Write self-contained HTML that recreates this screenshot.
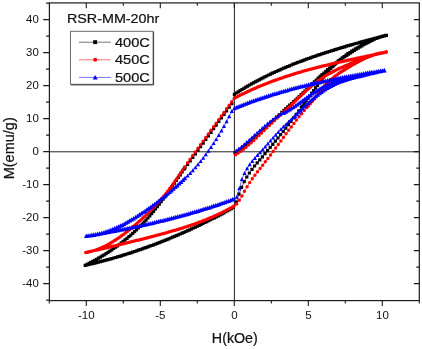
<!DOCTYPE html>
<html><head><meta charset="utf-8"><title>M-H loops</title>
<style>
html,body{margin:0;padding:0;background:#fff;}
body{width:422px;height:349px;overflow:hidden;}
svg{display:block;will-change:transform;}
text{font-family:"Liberation Sans",sans-serif;fill:#111;}
text.b{stroke:#111;stroke-width:0.22px;}
</style></head><body>
<svg width="422" height="349" viewBox="0 0 422 349">
<rect width="422" height="349" fill="#fff"/>
<rect x="49.4" y="2.9" width="369.90000000000003" height="297.70000000000005" fill="none" stroke="#1a1a1a" stroke-width="1.2"/>
<path d="M49.4 151.79999999999998H419.3M234.4 2.9V300.6" stroke="#222" stroke-width="1" fill="none"/>
<path d="M49.4 300.1h-3.3M49.4 283.6h-6.2M419.3 283.6h-5.5M49.4 267.1h-3.3M419.3 267.1h-3M49.4 250.6h-6.2M419.3 250.6h-5.5M49.4 234.1h-3.3M419.3 234.1h-3M49.4 217.6h-6.2M419.3 217.6h-5.5M49.4 201.1h-3.3M419.3 201.1h-3M49.4 184.6h-6.2M419.3 184.6h-5.5M49.4 168.1h-3.3M419.3 168.1h-3M49.4 151.6h-6.2M419.3 151.6h-5.5M49.4 135.1h-3.3M419.3 135.1h-3M49.4 118.6h-6.2M419.3 118.6h-5.5M49.4 102.1h-3.3M419.3 102.1h-3M49.4 85.6h-6.2M419.3 85.6h-5.5M49.4 69.1h-3.3M419.3 69.1h-3M49.4 52.6h-6.2M419.3 52.6h-5.5M49.4 36.1h-3.3M419.3 36.1h-3M49.4 19.6h-6.2M419.3 19.6h-5.5M49.4 3.1h-3.3M49.3 300.6v3M86.3 300.6v5.5M86.3 2.9v5.3M123.3 300.6v3M123.3 2.9v2.9M160.3 300.6v5.5M160.3 2.9v5.3M197.3 300.6v3M197.3 2.9v2.9M234.3 300.6v5.5M234.3 2.9v5.3M271.3 300.6v3M271.3 2.9v2.9M308.3 300.6v5.5M308.3 2.9v5.3M345.3 300.6v3M345.3 2.9v2.9M382.3 300.6v5.5M382.3 2.9v5.3M419.3 300.6v3" stroke="#1a1a1a" stroke-width="1.1" fill="none"/>
<path d="M85.2 265.4L87.1 264.4L89 263.4L90.9 262.4L92.8 261.4L94.7 260.3L96.6 259.3L98.5 258.2L100.4 257.1L102.3 255.9L104.2 254.8L106.1 253.6L108 252.4L109.9 251.1L111.8 249.9L113.7 248.5L115.6 247.2L117.5 245.8L119.4 244.4L121.3 243L123.2 241.5L125.1 239.9L127 238.4L128.9 236.7L130.8 235.1L132.7 233.4L134.6 231.6L136.5 229.8L138.4 228L140.3 226.1L142.2 224.1L144.1 222.1L146 220.1L147.9 218L149.8 215.8L151.7 213.6L153.6 211.3L155.5 209L157.4 206.6L159.3 204.2L161.2 201.7L163.1 199.2L165 196.6L166.9 194L168.8 191.3L170.7 188.6L172.6 185.9L174.5 183.1L176.4 180.3L178.3 177.6L180.2 174.8L182.1 172L184 169.2L185 167.8L187.6 164.3L190.2 160.8L192.8 157.3L195.4 153.8L198 150.2L200.6 146.7L203.2 143.1L205.8 139.5L208.4 135.9L211 132.3L213.6 128.7L216.2 125.1L218.8 121.5L221.4 117.9L224 114.4L226.6 110.8L229.2 107.2L231.8 103.6L234.4 94.3L236.3 93.1L238.2 91.9L240.1 90.7L242 89.5L243.9 88.4L245.8 87.2L247.7 86.1L249.6 85L251.5 84L253.4 82.9L255.3 81.9L257.2 80.9L259.1 79.9L261 78.9L262.9 77.9L264.8 76.9L266.7 76L268.6 75.1L270.5 74.2L272.4 73.3L274.3 72.4L276.2 71.5L278.1 70.7L280 69.8L281.9 69L283.8 68.2L285.7 67.4L287.6 66.6L289.5 65.8L291.4 65L293.3 64.3L295.2 63.5L297.1 62.8L299 62L300.9 61.3L302.8 60.6L304.7 59.9L306.6 59.2L308.5 58.5L310.4 57.8L312.3 57.2L314.2 56.5L316.1 55.9L318 55.2L319.9 54.6L321.8 53.9L323.7 53.3L325.6 52.7L327.5 52.1L329.4 51.5L331.3 50.9L333.2 50.3L335.1 49.7L337 49.1L338.9 48.5L340.8 48L342.7 47.4L344.6 46.8L346.5 46.3L348.4 45.7L350.3 45.2L352.2 44.6L354.1 44.1L356 43.5L357.9 43L359.8 42.5L361.7 41.9L363.6 41.4L365.5 40.9L367.4 40.4L369.3 39.9L371.2 39.3L373.1 38.8L375 38.3L376.9 37.8L378.8 37.3L380.7 36.8L382.6 36.3L384.5 35.8L386.4 35.3M85.2 265.4L87.1 265L89 264.5L90.9 264.1L92.8 263.6L94.7 263.1L96.6 262.7L98.5 262.2L100.4 261.7L102.3 261.2L104.2 260.7L106.1 260.2L108 259.6L109.9 259.1L111.8 258.6L113.7 258L115.6 257.5L117.5 256.9L119.4 256.4L121.3 255.8L123.2 255.2L125.1 254.6L127 254L128.9 253.4L130.8 252.8L132.7 252.2L134.6 251.5L136.5 250.9L138.4 250.3L140.3 249.6L142.2 248.9L144.1 248.3L146 247.6L147.9 246.9L149.8 246.2L151.7 245.5L153.6 244.8L155.5 244.1L157.4 243.4L159.3 242.6L161.2 241.9L163.1 241.1L165 240.4L166.9 239.6L168.8 238.8L170.7 238.1L172.6 237.3L174.5 236.5L176.4 235.7L178.3 234.8L180.2 234L182.1 233.2L184 232.3L185.9 231.5L187.8 230.6L189.7 229.8L191.6 228.9L193.5 228L195.4 227.1L197.3 226.2L199.2 225.3L201.1 224.4L203 223.5L204.9 222.6L206.8 221.6L208.7 220.7L210.6 219.7L212.5 218.7L214.4 217.8L216.3 216.8L218.2 215.8L220.1 214.8L222 213.8L223.9 212.8L225.8 211.8L227.7 210.7L229.6 209.7L231.5 208.6L233.4 207.6L236.4 202L239 194.2L241.6 187.3L244.2 181.6L246.8 177L249.4 173L252 169.4L254.6 166L257.2 162.8L259.8 159.8L262.4 156.8L265 153.7L267.6 150.7L270.2 147.5L272.8 144.4L275.4 141.2L278 138L280.6 134.7L283.2 131.4L285.8 128.1L288.4 124.7L291 121.3L293.6 117.8L296.2 114.3L298.8 110.8L301.4 107.2L302.3 106L304.2 103.5L306.1 101L308 98.4L309.9 95.8L311.8 93.2L313.7 90.5L315.6 87.9L317.5 85.3L319.4 82.8L321.3 80.2L323.2 77.8L325.1 75.4L327 73L328.9 70.8L330.8 68.6L332.7 66.6L334.6 64.7L336.5 62.8L338.4 61.1L340.3 59.5L342.2 57.9L344.1 56.5L346 55.1L347.9 53.8L349.8 52.5L351.7 51.3L353.6 50.1L355.5 49L357.4 47.9L359.3 46.8L361.2 45.7L363.1 44.7L365 43.7L366.9 42.8L368.8 41.9L370.7 41L372.6 40.1L374.5 39.3L376.4 38.5L378.3 37.7L380.2 37L382.1 36.4L384 35.9L385.9 35.4M235 152.8L237.6 151.1L240.2 149.3L242.8 147.5L245.4 145.5L248 143.4L250.6 141.2L253.2 138.9L255.8 136.6L258.4 134.3L261 131.9L263.6 129.5L266.2 127L268.8 124.5L271.4 122.1L274 119.6L276.6 117.2L279.2 114.8L281.8 112.4L284 110.4L285.9 108.7L287.8 106.9L289.7 105.2L291.6 103.5L293.5 101.8L295.4 100L297.3 98.3L299.2 96.5L301.1 94.8L303 93L304.9 91.1L306.8 89.3L308.7 87.4L310.6 85.6L312.5 83.7L314.4 81.9L316.3 80L318.2 78.2L320.1 76.4L322 74.7L323.9 73L325.8 71.3L327.7 69.7L329.6 68.1L331.5 66.6L333.4 65.1L335.3 63.6L337.2 62.2L339.1 60.7L341 59.4L342.9 58L344.8 56.7L346.7 55.4L348.6 54.1L350.5 52.9L352.4 51.6L354.3 50.4L356.2 49.3L358.1 48.1L360 47L361.9 45.8L363.8 44.7L365.7 43.6L367.6 42.5L369.5 41.5L371.4 40.4" fill="none" stroke="#000" stroke-width="0.6"/>
<path d="M83.6 263.8h3.2v3.2h-3.2zM85.5 262.8h3.2v3.2h-3.2zM87.4 261.8h3.2v3.2h-3.2zM89.3 260.8h3.2v3.2h-3.2zM91.2 259.8h3.2v3.2h-3.2zM93.1 258.7h3.2v3.2h-3.2zM95 257.7h3.2v3.2h-3.2zM96.9 256.6h3.2v3.2h-3.2zM98.8 255.5h3.2v3.2h-3.2zM100.7 254.3h3.2v3.2h-3.2zM102.6 253.2h3.2v3.2h-3.2zM104.5 252h3.2v3.2h-3.2zM106.4 250.8h3.2v3.2h-3.2zM108.3 249.5h3.2v3.2h-3.2zM110.2 248.2h3.2v3.2h-3.2zM112.1 246.9h3.2v3.2h-3.2zM114 245.6h3.2v3.2h-3.2zM115.9 244.2h3.2v3.2h-3.2zM117.8 242.8h3.2v3.2h-3.2zM119.7 241.3h3.2v3.2h-3.2zM121.6 239.8h3.2v3.2h-3.2zM123.5 238.3h3.2v3.2h-3.2zM125.4 236.7h3.2v3.2h-3.2zM127.3 235.1h3.2v3.2h-3.2zM129.2 233.5h3.2v3.2h-3.2zM131.1 231.8h3.2v3.2h-3.2zM133 230h3.2v3.2h-3.2zM134.9 228.2h3.2v3.2h-3.2zM136.8 226.4h3.2v3.2h-3.2zM138.7 224.5h3.2v3.2h-3.2zM140.6 222.5h3.2v3.2h-3.2zM142.5 220.5h3.2v3.2h-3.2zM144.4 218.5h3.2v3.2h-3.2zM146.3 216.4h3.2v3.2h-3.2zM148.2 214.2h3.2v3.2h-3.2zM150.1 212h3.2v3.2h-3.2zM152 209.7h3.2v3.2h-3.2zM153.9 207.4h3.2v3.2h-3.2zM155.8 205h3.2v3.2h-3.2zM157.7 202.6h3.2v3.2h-3.2zM159.6 200.1h3.2v3.2h-3.2zM161.5 197.6h3.2v3.2h-3.2zM163.4 195h3.2v3.2h-3.2zM165.3 192.3h3.2v3.2h-3.2zM167.2 189.7h3.2v3.2h-3.2zM169.1 187h3.2v3.2h-3.2zM171 184.2h3.2v3.2h-3.2zM172.9 181.5h3.2v3.2h-3.2zM174.8 178.7h3.2v3.2h-3.2zM176.7 175.9h3.2v3.2h-3.2zM178.6 173.2h3.2v3.2h-3.2zM180.5 170.4h3.2v3.2h-3.2zM182.4 167.6h3.2v3.2h-3.2zM183.4 166.2h3.2v3.2h-3.2zM186 162.7h3.2v3.2h-3.2zM188.6 159.2h3.2v3.2h-3.2zM191.2 155.7h3.2v3.2h-3.2zM193.8 152.2h3.2v3.2h-3.2zM196.4 148.6h3.2v3.2h-3.2zM199 145.1h3.2v3.2h-3.2zM201.6 141.5h3.2v3.2h-3.2zM204.2 137.9h3.2v3.2h-3.2zM206.8 134.3h3.2v3.2h-3.2zM209.4 130.7h3.2v3.2h-3.2zM212 127.1h3.2v3.2h-3.2zM214.6 123.5h3.2v3.2h-3.2zM217.2 119.9h3.2v3.2h-3.2zM219.8 116.3h3.2v3.2h-3.2zM222.4 112.8h3.2v3.2h-3.2zM225 109.2h3.2v3.2h-3.2zM227.6 105.6h3.2v3.2h-3.2zM230.2 102h3.2v3.2h-3.2zM232.8 92.7h3.2v3.2h-3.2zM234.7 91.4h3.2v3.2h-3.2zM236.6 90.2h3.2v3.2h-3.2zM238.5 89h3.2v3.2h-3.2zM240.4 87.9h3.2v3.2h-3.2zM242.3 86.7h3.2v3.2h-3.2zM244.2 85.6h3.2v3.2h-3.2zM246.1 84.5h3.2v3.2h-3.2zM248 83.4h3.2v3.2h-3.2zM249.9 82.3h3.2v3.2h-3.2zM251.8 81.3h3.2v3.2h-3.2zM253.7 80.3h3.2v3.2h-3.2zM255.6 79.2h3.2v3.2h-3.2zM257.5 78.2h3.2v3.2h-3.2zM259.4 77.2h3.2v3.2h-3.2zM261.3 76.3h3.2v3.2h-3.2zM263.2 75.3h3.2v3.2h-3.2zM265.1 74.4h3.2v3.2h-3.2zM267 73.4h3.2v3.2h-3.2zM268.9 72.5h3.2v3.2h-3.2zM270.8 71.6h3.2v3.2h-3.2zM272.7 70.8h3.2v3.2h-3.2zM274.6 69.9h3.2v3.2h-3.2zM276.5 69h3.2v3.2h-3.2zM278.4 68.2h3.2v3.2h-3.2zM280.3 67.4h3.2v3.2h-3.2zM282.2 66.5h3.2v3.2h-3.2zM284.1 65.7h3.2v3.2h-3.2zM286 64.9h3.2v3.2h-3.2zM287.9 64.2h3.2v3.2h-3.2zM289.8 63.4h3.2v3.2h-3.2zM291.7 62.6h3.2v3.2h-3.2zM293.6 61.9h3.2v3.2h-3.2zM295.5 61.1h3.2v3.2h-3.2zM297.4 60.4h3.2v3.2h-3.2zM299.3 59.7h3.2v3.2h-3.2zM301.2 59h3.2v3.2h-3.2zM303.1 58.3h3.2v3.2h-3.2zM305 57.6h3.2v3.2h-3.2zM306.9 56.9h3.2v3.2h-3.2zM308.8 56.2h3.2v3.2h-3.2zM310.7 55.6h3.2v3.2h-3.2zM312.6 54.9h3.2v3.2h-3.2zM314.5 54.2h3.2v3.2h-3.2zM316.4 53.6h3.2v3.2h-3.2zM318.3 53h3.2v3.2h-3.2zM320.2 52.3h3.2v3.2h-3.2zM322.1 51.7h3.2v3.2h-3.2zM324 51.1h3.2v3.2h-3.2zM325.9 50.5h3.2v3.2h-3.2zM327.8 49.9h3.2v3.2h-3.2zM329.7 49.3h3.2v3.2h-3.2zM331.6 48.7h3.2v3.2h-3.2zM333.5 48.1h3.2v3.2h-3.2zM335.4 47.5h3.2v3.2h-3.2zM337.3 46.9h3.2v3.2h-3.2zM339.2 46.3h3.2v3.2h-3.2zM341.1 45.8h3.2v3.2h-3.2zM343 45.2h3.2v3.2h-3.2zM344.9 44.6h3.2v3.2h-3.2zM346.8 44.1h3.2v3.2h-3.2zM348.7 43.5h3.2v3.2h-3.2zM350.6 43h3.2v3.2h-3.2zM352.5 42.4h3.2v3.2h-3.2zM354.4 41.9h3.2v3.2h-3.2zM356.3 41.4h3.2v3.2h-3.2zM358.2 40.8h3.2v3.2h-3.2zM360.1 40.3h3.2v3.2h-3.2zM362 39.8h3.2v3.2h-3.2zM363.9 39.3h3.2v3.2h-3.2zM365.8 38.8h3.2v3.2h-3.2zM367.7 38.2h3.2v3.2h-3.2zM369.6 37.7h3.2v3.2h-3.2zM371.5 37.2h3.2v3.2h-3.2zM373.4 36.7h3.2v3.2h-3.2zM375.3 36.2h3.2v3.2h-3.2zM377.2 35.7h3.2v3.2h-3.2zM379.1 35.2h3.2v3.2h-3.2zM381 34.7h3.2v3.2h-3.2zM382.9 34.2h3.2v3.2h-3.2zM384.8 33.7h3.2v3.2h-3.2zM83.6 263.8h3.2v3.2h-3.2zM85.5 263.3h3.2v3.2h-3.2zM87.4 262.9h3.2v3.2h-3.2zM89.3 262.4h3.2v3.2h-3.2zM91.2 262h3.2v3.2h-3.2zM93.1 261.5h3.2v3.2h-3.2zM95 261h3.2v3.2h-3.2zM96.9 260.6h3.2v3.2h-3.2zM98.8 260.1h3.2v3.2h-3.2zM100.7 259.6h3.2v3.2h-3.2zM102.6 259.1h3.2v3.2h-3.2zM104.5 258.5h3.2v3.2h-3.2zM106.4 258h3.2v3.2h-3.2zM108.3 257.5h3.2v3.2h-3.2zM110.2 257h3.2v3.2h-3.2zM112.1 256.4h3.2v3.2h-3.2zM114 255.9h3.2v3.2h-3.2zM115.9 255.3h3.2v3.2h-3.2zM117.8 254.7h3.2v3.2h-3.2zM119.7 254.2h3.2v3.2h-3.2zM121.6 253.6h3.2v3.2h-3.2zM123.5 253h3.2v3.2h-3.2zM125.4 252.4h3.2v3.2h-3.2zM127.3 251.8h3.2v3.2h-3.2zM129.2 251.2h3.2v3.2h-3.2zM131.1 250.5h3.2v3.2h-3.2zM133 249.9h3.2v3.2h-3.2zM134.9 249.3h3.2v3.2h-3.2zM136.8 248.6h3.2v3.2h-3.2zM138.7 248h3.2v3.2h-3.2zM140.6 247.3h3.2v3.2h-3.2zM142.5 246.6h3.2v3.2h-3.2zM144.4 246h3.2v3.2h-3.2zM146.3 245.3h3.2v3.2h-3.2zM148.2 244.6h3.2v3.2h-3.2zM150.1 243.9h3.2v3.2h-3.2zM152 243.2h3.2v3.2h-3.2zM153.9 242.5h3.2v3.2h-3.2zM155.8 241.7h3.2v3.2h-3.2zM157.7 241h3.2v3.2h-3.2zM159.6 240.3h3.2v3.2h-3.2zM161.5 239.5h3.2v3.2h-3.2zM163.4 238.8h3.2v3.2h-3.2zM165.3 238h3.2v3.2h-3.2zM167.2 237.2h3.2v3.2h-3.2zM169.1 236.4h3.2v3.2h-3.2zM171 235.6h3.2v3.2h-3.2zM172.9 234.8h3.2v3.2h-3.2zM174.8 234h3.2v3.2h-3.2zM176.7 233.2h3.2v3.2h-3.2zM178.6 232.4h3.2v3.2h-3.2zM180.5 231.6h3.2v3.2h-3.2zM182.4 230.7h3.2v3.2h-3.2zM184.3 229.9h3.2v3.2h-3.2zM186.2 229h3.2v3.2h-3.2zM188.1 228.2h3.2v3.2h-3.2zM190 227.3h3.2v3.2h-3.2zM191.9 226.4h3.2v3.2h-3.2zM193.8 225.5h3.2v3.2h-3.2zM195.7 224.6h3.2v3.2h-3.2zM197.6 223.7h3.2v3.2h-3.2zM199.5 222.8h3.2v3.2h-3.2zM201.4 221.9h3.2v3.2h-3.2zM203.3 220.9h3.2v3.2h-3.2zM205.2 220h3.2v3.2h-3.2zM207.1 219h3.2v3.2h-3.2zM209 218.1h3.2v3.2h-3.2zM210.9 217.1h3.2v3.2h-3.2zM212.8 216.2h3.2v3.2h-3.2zM214.7 215.2h3.2v3.2h-3.2zM216.6 214.2h3.2v3.2h-3.2zM218.5 213.2h3.2v3.2h-3.2zM220.4 212.2h3.2v3.2h-3.2zM222.3 211.2h3.2v3.2h-3.2zM224.2 210.1h3.2v3.2h-3.2zM226.1 209.1h3.2v3.2h-3.2zM228 208h3.2v3.2h-3.2zM229.9 207h3.2v3.2h-3.2zM231.8 205.9h3.2v3.2h-3.2zM234.8 200.4h3.2v3.2h-3.2zM237.4 192.6h3.2v3.2h-3.2zM240 185.7h3.2v3.2h-3.2zM242.6 180h3.2v3.2h-3.2zM245.2 175.4h3.2v3.2h-3.2zM247.8 171.4h3.2v3.2h-3.2zM250.4 167.8h3.2v3.2h-3.2zM253 164.4h3.2v3.2h-3.2zM255.6 161.2h3.2v3.2h-3.2zM258.2 158.2h3.2v3.2h-3.2zM260.8 155.2h3.2v3.2h-3.2zM263.4 152.1h3.2v3.2h-3.2zM266 149.1h3.2v3.2h-3.2zM268.6 145.9h3.2v3.2h-3.2zM271.2 142.8h3.2v3.2h-3.2zM273.8 139.6h3.2v3.2h-3.2zM276.4 136.4h3.2v3.2h-3.2zM279 133.1h3.2v3.2h-3.2zM281.6 129.8h3.2v3.2h-3.2zM284.2 126.5h3.2v3.2h-3.2zM286.8 123.1h3.2v3.2h-3.2zM289.4 119.7h3.2v3.2h-3.2zM292 116.2h3.2v3.2h-3.2zM294.6 112.7h3.2v3.2h-3.2zM297.2 109.2h3.2v3.2h-3.2zM299.8 105.6h3.2v3.2h-3.2zM300.7 104.4h3.2v3.2h-3.2zM302.6 101.9h3.2v3.2h-3.2zM304.5 99.3h3.2v3.2h-3.2zM306.4 96.8h3.2v3.2h-3.2zM308.3 94.2h3.2v3.2h-3.2zM310.2 91.5h3.2v3.2h-3.2zM312.1 88.9h3.2v3.2h-3.2zM314 86.3h3.2v3.2h-3.2zM315.9 83.7h3.2v3.2h-3.2zM317.8 81.1h3.2v3.2h-3.2zM319.7 78.6h3.2v3.2h-3.2zM321.6 76.1h3.2v3.2h-3.2zM323.5 73.7h3.2v3.2h-3.2zM325.4 71.4h3.2v3.2h-3.2zM327.3 69.2h3.2v3.2h-3.2zM329.2 67h3.2v3.2h-3.2zM331.1 65h3.2v3.2h-3.2zM333 63h3.2v3.2h-3.2zM334.9 61.2h3.2v3.2h-3.2zM336.8 59.5h3.2v3.2h-3.2zM338.7 57.9h3.2v3.2h-3.2zM340.6 56.3h3.2v3.2h-3.2zM342.5 54.9h3.2v3.2h-3.2zM344.4 53.5h3.2v3.2h-3.2zM346.3 52.1h3.2v3.2h-3.2zM348.2 50.9h3.2v3.2h-3.2zM350.1 49.6h3.2v3.2h-3.2zM352 48.5h3.2v3.2h-3.2zM353.9 47.3h3.2v3.2h-3.2zM355.8 46.2h3.2v3.2h-3.2zM357.7 45.2h3.2v3.2h-3.2zM359.6 44.1h3.2v3.2h-3.2zM361.5 43.1h3.2v3.2h-3.2zM363.4 42.1h3.2v3.2h-3.2zM365.3 41.2h3.2v3.2h-3.2zM367.2 40.2h3.2v3.2h-3.2zM369.1 39.3h3.2v3.2h-3.2zM371 38.5h3.2v3.2h-3.2zM372.9 37.6h3.2v3.2h-3.2zM374.8 36.9h3.2v3.2h-3.2zM376.7 36.1h3.2v3.2h-3.2zM378.6 35.4h3.2v3.2h-3.2zM380.5 34.8h3.2v3.2h-3.2zM382.4 34.2h3.2v3.2h-3.2zM384.3 33.8h3.2v3.2h-3.2zM233.4 151.2h3.2v3.2h-3.2zM236 149.5h3.2v3.2h-3.2zM238.6 147.7h3.2v3.2h-3.2zM241.2 145.9h3.2v3.2h-3.2zM243.8 143.9h3.2v3.2h-3.2zM246.4 141.8h3.2v3.2h-3.2zM249 139.6h3.2v3.2h-3.2zM251.6 137.3h3.2v3.2h-3.2zM254.2 135h3.2v3.2h-3.2zM256.8 132.7h3.2v3.2h-3.2zM259.4 130.3h3.2v3.2h-3.2zM262 127.9h3.2v3.2h-3.2zM264.6 125.4h3.2v3.2h-3.2zM267.2 122.9h3.2v3.2h-3.2zM269.8 120.5h3.2v3.2h-3.2zM272.4 118h3.2v3.2h-3.2zM275 115.6h3.2v3.2h-3.2zM277.6 113.2h3.2v3.2h-3.2zM280.2 110.8h3.2v3.2h-3.2zM282.4 108.8h3.2v3.2h-3.2zM284.3 107h3.2v3.2h-3.2zM286.2 105.3h3.2v3.2h-3.2zM288.1 103.6h3.2v3.2h-3.2zM290 101.9h3.2v3.2h-3.2zM291.9 100.1h3.2v3.2h-3.2zM293.8 98.4h3.2v3.2h-3.2zM295.7 96.7h3.2v3.2h-3.2zM297.6 94.9h3.2v3.2h-3.2zM299.5 93.1h3.2v3.2h-3.2zM301.4 91.3h3.2v3.2h-3.2zM303.3 89.5h3.2v3.2h-3.2zM305.2 87.7h3.2v3.2h-3.2zM307.1 85.8h3.2v3.2h-3.2zM309 84h3.2v3.2h-3.2zM310.9 82.1h3.2v3.2h-3.2zM312.8 80.2h3.2v3.2h-3.2zM314.7 78.4h3.2v3.2h-3.2zM316.6 76.6h3.2v3.2h-3.2zM318.5 74.8h3.2v3.2h-3.2zM320.4 73.1h3.2v3.2h-3.2zM322.3 71.4h3.2v3.2h-3.2zM324.2 69.7h3.2v3.2h-3.2zM326.1 68.1h3.2v3.2h-3.2zM328 66.5h3.2v3.2h-3.2zM329.9 65h3.2v3.2h-3.2zM331.8 63.5h3.2v3.2h-3.2zM333.7 62h3.2v3.2h-3.2zM335.6 60.5h3.2v3.2h-3.2zM337.5 59.1h3.2v3.2h-3.2zM339.4 57.7h3.2v3.2h-3.2zM341.3 56.4h3.2v3.2h-3.2zM343.2 55.1h3.2v3.2h-3.2zM345.1 53.8h3.2v3.2h-3.2zM347 52.5h3.2v3.2h-3.2zM348.9 51.2h3.2v3.2h-3.2zM350.8 50h3.2v3.2h-3.2zM352.7 48.8h3.2v3.2h-3.2zM354.6 47.6h3.2v3.2h-3.2zM356.5 46.5h3.2v3.2h-3.2zM358.4 45.3h3.2v3.2h-3.2zM360.3 44.2h3.2v3.2h-3.2zM362.2 43.1h3.2v3.2h-3.2zM364.1 42h3.2v3.2h-3.2zM366 40.9h3.2v3.2h-3.2zM367.9 39.8h3.2v3.2h-3.2zM369.8 38.8h3.2v3.2h-3.2z" fill="#000" stroke="none"/>

<path d="M85.8 252.5L87.7 252.2L89.6 251.8L91.5 251.3L93.4 250.8L95.3 250.2L97.2 249.5L99.1 248.8L101 248L102.9 247.1L104.8 246.2L106.7 245.2L108.6 244.2L110.5 243.1L112.4 242L114.3 240.8L116.2 239.6L118.1 238.3L120 237L121.9 235.6L123.8 234.2L125.7 232.8L127.6 231.3L129.5 229.7L131.4 228.2L133.3 226.6L135.2 225L137.1 223.3L139 221.6L140.9 219.9L142.8 218.1L144.7 216.4L146.6 214.5L148.5 212.7L150.4 210.8L152.3 208.9L154.2 206.9L156.1 204.9L158 202.8L159.9 200.7L161.8 198.5L163.7 196.2L165.6 193.9L167.5 191.5L169.4 189L171.3 186.4L173.2 183.8L175.1 181.1L177 178.4L178.9 175.6L180.8 172.8L182.7 170L184.6 167.1L187.6 162.8L190.2 159.2L192.8 155.5L195.4 151.9L198 148.3L200.6 144.7L203.2 141.1L205.8 137.5L208.4 133.9L211 130.3L213.6 126.7L216.2 123.2L218.8 119.6L221.4 116L224 112.4L226.6 108.8L229.2 105.3L231.8 101.7L234.4 98.2L236.3 97.2L238.2 96.2L240.1 95.3L242 94.3L243.9 93.4L245.8 92.5L247.7 91.6L249.6 90.7L251.5 89.8L253.4 89L255.3 88.2L257.2 87.3L259.1 86.5L261 85.7L262.9 85L264.8 84.2L266.7 83.4L268.6 82.7L270.5 82L272.4 81.3L274.3 80.6L276.2 79.9L278.1 79.2L280 78.5L281.9 77.9L283.8 77.2L285.7 76.6L287.6 76L289.5 75.4L291.4 74.8L293.3 74.2L295.2 73.6L297.1 73L299 72.4L300.9 71.9L302.8 71.3L304.7 70.8L306.6 70.3L308.5 69.8L310.4 69.2L312.3 68.7L314.2 68.2L316.1 67.7L318 67.2L319.9 66.8L321.8 66.3L323.7 65.8L325.6 65.4L327.5 64.9L329.4 64.4L331.3 64L333.2 63.6L335.1 63.1L337 62.7L338.9 62.2L340.8 61.8L342.7 61.4L344.6 61L346.5 60.6L348.4 60.1L350.3 59.7L352.2 59.3L354.1 58.9L356 58.5L357.9 58.1L359.8 57.7L361.7 57.3L363.6 56.9L365.5 56.5L367.4 56.1L369.3 55.7L371.2 55.3L373.1 54.9L375 54.5L376.9 54.1L378.8 53.7L380.7 53.3L382.6 52.9L384.5 52.5L386.4 52M85.8 252.5L87.7 252.1L89.6 251.6L91.5 251.2L93.4 250.8L95.3 250.3L97.2 249.9L99.1 249.5L101 249L102.9 248.6L104.8 248.1L106.7 247.7L108.6 247.2L110.5 246.8L112.4 246.3L114.3 245.9L116.2 245.4L118.1 245L120 244.5L121.9 244.1L123.8 243.6L125.7 243.1L127.6 242.7L129.5 242.2L131.4 241.7L133.3 241.3L135.2 240.8L137.1 240.3L139 239.9L140.9 239.4L142.8 238.9L144.7 238.4L146.6 237.9L148.5 237.4L150.4 236.9L152.3 236.4L154.2 236L156.1 235.5L158 234.9L159.9 234.4L161.8 233.9L163.7 233.4L165.6 232.9L167.5 232.4L169.4 231.8L171.3 231.3L173.2 230.8L175.1 230.2L177 229.7L178.9 229.1L180.8 228.5L182.7 227.9L184.6 227.3L186.5 226.7L188.4 226.1L190.3 225.5L192.2 224.8L194.1 224.2L196 223.5L197.9 222.8L199.8 222.1L201.7 221.4L203.6 220.6L205.5 219.9L207.4 219.1L209.3 218.3L211.2 217.5L213.1 216.7L215 215.8L216.9 215L218.8 214.1L220.7 213.2L222.6 212.2L224.5 211.3L226.4 210.3L228.3 209.3L230.2 208.2L232.1 207.2L234 206.1L236.7 203.9L239.3 200.2L241.9 195.9L244.5 191.3L247.1 186.8L249.7 182.6L252.3 178.8L254.9 175.2L257.5 171.8L260.1 168.5L262.7 165.2L265.3 161.8L267.9 158.4L270.5 155L273.1 151.5L275.7 148L278.3 144.4L280.9 140.9L283.5 137.4L286.1 133.8L288.7 130.3L291.3 126.9L293.9 123.5L296.5 120.1L299.1 116.8L301.7 113.7L304.3 110.6L306.9 107.6L308.3 106L310.2 103.8L312.1 101.5L314 99.1L315.9 96.7L317.8 94.4L319.7 92L321.6 89.7L323.5 87.5L325.4 85.3L327.3 83.3L329.2 81.4L331.1 79.5L333 77.9L334.9 76.3L336.8 74.9L338.7 73.6L340.6 72.3L342.5 71.1L344.4 70L346.3 68.8L348.2 67.6L350.1 66.5L352 65.3L353.9 64.2L355.8 63.1L357.7 62.1L359.6 61.1L361.5 60.1L363.4 59.1L365.3 58.2L367.2 57.4L369.1 56.6L371 55.9L372.9 55.2L374.8 54.6L376.7 54.1L378.6 53.6L380.5 53.1L382.4 52.7L384.3 52.4L386.2 52.1M235.6 154.7L238.2 153L240.8 151.2L243.4 149.2L246 147.2L248.6 145L251.2 142.7L253.8 140.4L256.4 138L259 135.5L261.6 133L264.2 130.5L266.8 128L269.4 125.4L272 122.9L274.6 120.4L277.2 117.9L279.8 115.5L282.4 113.2L284 111.8L285.9 110L287.8 108.2L289.7 106.4L291.6 104.6L293.5 102.7L295.4 100.9L297.3 99.1L299.2 97.3L301.1 95.5L303 93.7L304.9 92L306.8 90.2L308.7 88.6L310.6 86.9L312.5 85.3L314.4 83.7L316.3 82.2L318.2 80.8L320.1 79.4L322 78.1L323.9 76.8L325.8 75.6L327.7 74.5L329.6 73.4L331.5 72.4L333.4 71.4L335.3 70.4L337.2 69.5L339.1 68.6L341 67.7L342.9 66.9L344.8 66L346.7 65.2L348.6 64.4L350.5 63.6L352.4 62.8L354.3 61.9L356.2 61.1L358.1 60.3L360 59.4L361.9 58.5L363.8 57.6L365.7 56.7" fill="none" stroke="#f00" stroke-width="0.6"/>
<path d="M85.8 252.5h0M87.7 252.2h0M89.6 251.8h0M91.5 251.3h0M93.4 250.8h0M95.3 250.2h0M97.2 249.5h0M99.1 248.8h0M101 248h0M102.9 247.1h0M104.8 246.2h0M106.7 245.2h0M108.6 244.2h0M110.5 243.1h0M112.4 242h0M114.3 240.8h0M116.2 239.6h0M118.1 238.3h0M120 237h0M121.9 235.6h0M123.8 234.2h0M125.7 232.8h0M127.6 231.3h0M129.5 229.7h0M131.4 228.2h0M133.3 226.6h0M135.2 225h0M137.1 223.3h0M139 221.6h0M140.9 219.9h0M142.8 218.1h0M144.7 216.4h0M146.6 214.5h0M148.5 212.7h0M150.4 210.8h0M152.3 208.9h0M154.2 206.9h0M156.1 204.9h0M158 202.8h0M159.9 200.7h0M161.8 198.5h0M163.7 196.2h0M165.6 193.9h0M167.5 191.5h0M169.4 189h0M171.3 186.4h0M173.2 183.8h0M175.1 181.1h0M177 178.4h0M178.9 175.6h0M180.8 172.8h0M182.7 170h0M184.6 167.1h0M234.4 98.2h0M236.3 97.2h0M238.2 96.2h0M240.1 95.3h0M242 94.3h0M243.9 93.4h0M245.8 92.5h0M247.7 91.6h0M249.6 90.7h0M251.5 89.8h0M253.4 89h0M255.3 88.2h0M257.2 87.3h0M259.1 86.5h0M261 85.7h0M262.9 85h0M264.8 84.2h0M266.7 83.4h0M268.6 82.7h0M270.5 82h0M272.4 81.3h0M274.3 80.6h0M276.2 79.9h0M278.1 79.2h0M280 78.5h0M281.9 77.9h0M283.8 77.2h0M285.7 76.6h0M287.6 76h0M289.5 75.4h0M291.4 74.8h0M293.3 74.2h0M295.2 73.6h0M297.1 73h0M299 72.4h0M300.9 71.9h0M302.8 71.3h0M304.7 70.8h0M306.6 70.3h0M308.5 69.8h0M310.4 69.2h0M312.3 68.7h0M314.2 68.2h0M316.1 67.7h0M318 67.2h0M319.9 66.8h0M321.8 66.3h0M323.7 65.8h0M325.6 65.4h0M327.5 64.9h0M329.4 64.4h0M331.3 64h0M333.2 63.6h0M335.1 63.1h0M337 62.7h0M338.9 62.2h0M340.8 61.8h0M342.7 61.4h0M344.6 61h0M346.5 60.6h0M348.4 60.1h0M350.3 59.7h0M352.2 59.3h0M354.1 58.9h0M356 58.5h0M357.9 58.1h0M359.8 57.7h0M361.7 57.3h0M363.6 56.9h0M365.5 56.5h0M367.4 56.1h0M369.3 55.7h0M371.2 55.3h0M373.1 54.9h0M375 54.5h0M376.9 54.1h0M378.8 53.7h0M380.7 53.3h0M382.6 52.9h0M384.5 52.5h0M386.4 52h0M85.8 252.5h0M87.7 252.1h0M89.6 251.6h0M91.5 251.2h0M93.4 250.8h0M95.3 250.3h0M97.2 249.9h0M99.1 249.5h0M101 249h0M102.9 248.6h0M104.8 248.1h0M106.7 247.7h0M108.6 247.2h0M110.5 246.8h0M112.4 246.3h0M114.3 245.9h0M116.2 245.4h0M118.1 245h0M120 244.5h0M121.9 244.1h0M123.8 243.6h0M125.7 243.1h0M127.6 242.7h0M129.5 242.2h0M131.4 241.7h0M133.3 241.3h0M135.2 240.8h0M137.1 240.3h0M139 239.9h0M140.9 239.4h0M142.8 238.9h0M144.7 238.4h0M146.6 237.9h0M148.5 237.4h0M150.4 236.9h0M152.3 236.4h0M154.2 236h0M156.1 235.5h0M158 234.9h0M159.9 234.4h0M161.8 233.9h0M163.7 233.4h0M165.6 232.9h0M167.5 232.4h0M169.4 231.8h0M171.3 231.3h0M173.2 230.8h0M175.1 230.2h0M177 229.7h0M178.9 229.1h0M180.8 228.5h0M182.7 227.9h0M184.6 227.3h0M186.5 226.7h0M188.4 226.1h0M190.3 225.5h0M192.2 224.8h0M194.1 224.2h0M196 223.5h0M197.9 222.8h0M199.8 222.1h0M201.7 221.4h0M203.6 220.6h0M205.5 219.9h0M207.4 219.1h0M209.3 218.3h0M211.2 217.5h0M213.1 216.7h0M215 215.8h0M216.9 215h0M218.8 214.1h0M220.7 213.2h0M222.6 212.2h0M224.5 211.3h0M226.4 210.3h0M228.3 209.3h0M230.2 208.2h0M232.1 207.2h0M234 206.1h0M308.3 106h0M310.2 103.8h0M312.1 101.5h0M314 99.1h0M315.9 96.7h0M317.8 94.4h0M319.7 92h0M321.6 89.7h0M323.5 87.5h0M325.4 85.3h0M327.3 83.3h0M329.2 81.4h0M331.1 79.5h0M333 77.9h0M334.9 76.3h0M336.8 74.9h0M338.7 73.6h0M340.6 72.3h0M342.5 71.1h0M344.4 70h0M346.3 68.8h0M348.2 67.6h0M350.1 66.5h0M352 65.3h0M353.9 64.2h0M355.8 63.1h0M357.7 62.1h0M359.6 61.1h0M361.5 60.1h0M363.4 59.1h0M365.3 58.2h0M367.2 57.4h0M369.1 56.6h0M371 55.9h0M372.9 55.2h0M374.8 54.6h0M376.7 54.1h0M378.6 53.6h0M380.5 53.1h0M382.4 52.7h0M384.3 52.4h0M386.2 52.1h0M284 111.8h0M285.9 110h0M287.8 108.2h0M289.7 106.4h0M291.6 104.6h0M293.5 102.7h0M295.4 100.9h0M297.3 99.1h0M299.2 97.3h0M301.1 95.5h0M303 93.7h0M304.9 92h0M306.8 90.2h0M308.7 88.6h0M310.6 86.9h0M312.5 85.3h0M314.4 83.7h0M316.3 82.2h0M318.2 80.8h0M320.1 79.4h0M322 78.1h0M323.9 76.8h0M325.8 75.6h0M327.7 74.5h0M329.6 73.4h0M331.5 72.4h0M333.4 71.4h0M335.3 70.4h0M337.2 69.5h0M339.1 68.6h0M341 67.7h0M342.9 66.9h0M344.8 66h0M346.7 65.2h0M348.6 64.4h0M350.5 63.6h0M352.4 62.8h0M354.3 61.9h0M356.2 61.1h0M358.1 60.3h0M360 59.4h0M361.9 58.5h0M363.8 57.6h0M365.7 56.7h0" fill="none" stroke="#f00" stroke-width="3.55" stroke-linecap="round"/>
<path d="M187.6 162.8h0M190.2 159.2h0M192.8 155.5h0M195.4 151.9h0M198 148.3h0M200.6 144.7h0M203.2 141.1h0M205.8 137.5h0M208.4 133.9h0M211 130.3h0M213.6 126.7h0M216.2 123.2h0M218.8 119.6h0M221.4 116h0M224 112.4h0M226.6 108.8h0M229.2 105.3h0M231.8 101.7h0M236.7 203.9h0M239.3 200.2h0M241.9 195.9h0M244.5 191.3h0M247.1 186.8h0M249.7 182.6h0M252.3 178.8h0M254.9 175.2h0M257.5 171.8h0M260.1 168.5h0M262.7 165.2h0M265.3 161.8h0M267.9 158.4h0M270.5 155h0M273.1 151.5h0M275.7 148h0M278.3 144.4h0M280.9 140.9h0M283.5 137.4h0M286.1 133.8h0M288.7 130.3h0M291.3 126.9h0M293.9 123.5h0M296.5 120.1h0M299.1 116.8h0M301.7 113.7h0M304.3 110.6h0M306.9 107.6h0M235.6 154.7h0M238.2 153h0M240.8 151.2h0M243.4 149.2h0M246 147.2h0M248.6 145h0M251.2 142.7h0M253.8 140.4h0M256.4 138h0M259 135.5h0M261.6 133h0M264.2 130.5h0M266.8 128h0M269.4 125.4h0M272 122.9h0M274.6 120.4h0M277.2 117.9h0M279.8 115.5h0M282.4 113.2h0" fill="none" stroke="#f00" stroke-width="3.45" stroke-linecap="round"/>

<path d="M86.2 236.2L88.1 236L90 235.8L91.9 235.5L93.8 235.2L95.7 234.8L97.6 234.4L99.5 233.9L101.4 233.4L103.3 232.9L105.2 232.3L107.1 231.7L109 231L110.9 230.3L112.8 229.5L114.7 228.7L116.6 227.8L118.5 227L120.4 226L122.3 225.1L124.2 224.1L126.1 223L128 221.9L129.9 220.8L131.8 219.7L133.7 218.6L135.6 217.4L137.5 216.2L139.4 215L141.3 213.7L143.2 212.4L145.1 211.2L147 209.8L148.9 208.5L150.8 207.2L152.7 205.8L154.6 204.4L156.5 202.9L158.4 201.5L160.3 200L162.2 198.5L164.1 197L166 195.4L167.9 193.8L169.8 192.2L171.7 190.6L173.6 189L175.5 187.3L177.4 185.6L179.3 183.8L181.2 182.1L183.1 180.3L185 178.5L187.6 176L190.2 173.4L192.8 170.6L195.4 167.7L198 164.7L200.6 161.5L203.2 158.2L205.8 154.8L208.4 151.2L211 147.4L213.6 143.6L216.2 139.5L218.8 135.3L221.4 130.9L224 126.4L226.6 121.6L229.2 116.6L231.8 111.3L234.4 108.4L236.3 107.6L238.2 106.9L240.1 106.1L242 105.4L243.9 104.6L245.8 103.9L247.7 103.2L249.6 102.5L251.5 101.8L253.4 101.1L255.3 100.5L257.2 99.8L259.1 99.2L261 98.5L262.9 97.9L264.8 97.2L266.7 96.6L268.6 96L270.5 95.4L272.4 94.8L274.3 94.2L276.2 93.7L278.1 93.1L280 92.5L281.9 92L283.8 91.4L285.7 90.9L287.6 90.4L289.5 89.8L291.4 89.3L293.3 88.8L295.2 88.3L297.1 87.8L299 87.3L300.9 86.8L302.8 86.4L304.7 85.9L306.6 85.4L308.5 85L310.4 84.5L312.3 84.1L314.2 83.6L316.1 83.2L318 82.8L319.9 82.4L321.8 81.9L323.7 81.5L325.6 81.1L327.5 80.7L329.4 80.3L331.3 79.9L333.2 79.5L335.1 79.2L337 78.8L338.9 78.4L340.8 78L342.7 77.7L344.6 77.3L346.5 77L348.4 76.6L350.3 76.3L352.2 75.9L354.1 75.6L356 75.3L357.9 74.9L359.8 74.6L361.7 74.3L363.6 74L365.5 73.6L367.4 73.3L369.3 73L371.2 72.7L373.1 72.4L375 72.1L376.9 71.8L378.8 71.5L380.7 71.2L382.6 70.9L384.5 70.6M86.2 236.2L88.1 235.9L90 235.6L91.9 235.2L93.8 234.9L95.7 234.6L97.6 234.2L99.5 233.9L101.4 233.6L103.3 233.2L105.2 232.9L107.1 232.5L109 232.2L110.9 231.8L112.8 231.5L114.7 231.1L116.6 230.8L118.5 230.4L120.4 230L122.3 229.6L124.2 229.3L126.1 228.9L128 228.5L129.9 228.1L131.8 227.7L133.7 227.3L135.6 226.9L137.5 226.5L139.4 226.1L141.3 225.7L143.2 225.3L145.1 224.9L147 224.4L148.9 224L150.8 223.6L152.7 223.1L154.6 222.7L156.5 222.2L158.4 221.8L160.3 221.3L162.2 220.9L164.1 220.4L166 219.9L167.9 219.5L169.8 219L171.7 218.5L173.6 218L175.5 217.5L177.4 217L179.3 216.5L181.2 216L183.1 215.4L185 214.9L186.9 214.4L188.8 213.9L190.7 213.3L192.6 212.8L194.5 212.2L196.4 211.6L198.3 211.1L200.2 210.5L202.1 209.9L204 209.3L205.9 208.8L207.8 208.2L209.7 207.6L211.6 206.9L213.5 206.3L215.4 205.7L217.3 205.1L219.2 204.4L221.1 203.8L223 203.1L224.9 202.5L226.8 201.8L228.7 201.2L230.6 200.5L232.5 199.8L234.1 199.2L236.7 197.2L239.3 188.6L241.9 179.4L244.5 173.4L247.1 168.7L249.7 164.7L252.3 161.3L254.9 158.3L257.5 155.5L260.1 152.6L262.7 149.7L265.3 146.8L267.9 143.9L270.5 140.9L273.1 138L275.7 135.1L278.3 132.3L280.9 129.6L283.5 126.9L286.1 124.3L288.7 121.9L291.3 119.5L293.9 117.4L295 116.5L296.9 114.5L298.8 112.5L300.7 110.6L302.6 108.7L304.5 106.8L306.4 105L308.3 103.2L310.2 101.4L312.1 99.7L314 98.1L315.9 96.5L317.8 95L319.7 93.5L321.6 92.1L323.5 90.8L325.4 89.5L327.3 88.3L329.2 87.1L331.1 86.1L333 85.1L334.9 84.1L336.8 83.3L338.7 82.5L340.6 81.8L342.5 81.1L344.4 80.5L346.3 79.9L348.2 79.3L350.1 78.8L352 78.3L353.9 77.8L355.8 77.3L357.7 76.8L359.6 76.4L361.5 75.9L363.4 75.4L365.3 74.9L367.2 74.5L369.1 74L371 73.5L372.9 73.1L374.8 72.6L376.7 72.2L378.6 71.8L380.5 71.4L382.4 71L384.3 70.6M236.3 150.8L238.9 148.9L241.5 146.8L244.1 144.6L246.7 142.4L249.3 140.1L251.9 137.8L254.5 135.4L257.1 133L259.7 130.7L262.3 128.4L264.9 126.1L267.5 123.9L270.1 121.8L272.7 119.9L275.3 118L277.9 116.3L280.5 114.8L283.1 113.4L284 113L285.9 111.9L287.8 110.8L289.7 109.6L291.6 108.4L293.5 107.2L295.4 105.9L297.3 104.6L299.2 103.2L301.1 101.9L303 100.5L304.9 99.1L306.8 97.8L308.7 96.4L310.6 95.1L312.5 93.8L314.4 92.5L316.3 91.3L318.2 90.1L320.1 88.9L322 87.8L323.9 86.8L325.8 85.8L327.7 84.8L329.6 84L331.5 83.1L333.4 82.4L335.3 81.6L337.2 80.9L339.1 80.3L341 79.7L342.9 79.1L344.8 78.5L346.7 78L348.6 77.5L350.5 77.1L352.4 76.6L354.3 76.2L356.2 75.8L358.1 75.3L360 74.9L361.9 74.6L363.8 74.2L365.7 73.8L367.6 73.4L369.5 73L371.4 72.6" fill="none" stroke="#00f" stroke-width="0.6"/>
<path d="M86.2 233.5l2.2 4.5h-4.4zM88.1 233.3l2.2 4.5h-4.4zM90 233.1l2.2 4.5h-4.4zM91.9 232.8l2.2 4.5h-4.4zM93.8 232.5l2.2 4.5h-4.4zM95.7 232.1l2.2 4.5h-4.4zM97.6 231.7l2.2 4.5h-4.4zM99.5 231.2l2.2 4.5h-4.4zM101.4 230.7l2.2 4.5h-4.4zM103.3 230.2l2.2 4.5h-4.4zM105.2 229.6l2.2 4.5h-4.4zM107.1 229l2.2 4.5h-4.4zM109 228.3l2.2 4.5h-4.4zM110.9 227.6l2.2 4.5h-4.4zM112.8 226.8l2.2 4.5h-4.4zM114.7 226l2.2 4.5h-4.4zM116.6 225.1l2.2 4.5h-4.4zM118.5 224.3l2.2 4.5h-4.4zM120.4 223.3l2.2 4.5h-4.4zM122.3 222.4l2.2 4.5h-4.4zM124.2 221.4l2.2 4.5h-4.4zM126.1 220.3l2.2 4.5h-4.4zM128 219.2l2.2 4.5h-4.4zM129.9 218.1l2.2 4.5h-4.4zM131.8 217l2.2 4.5h-4.4zM133.7 215.9l2.2 4.5h-4.4zM135.6 214.7l2.2 4.5h-4.4zM137.5 213.5l2.2 4.5h-4.4zM139.4 212.3l2.2 4.5h-4.4zM141.3 211l2.2 4.5h-4.4zM143.2 209.7l2.2 4.5h-4.4zM145.1 208.5l2.2 4.5h-4.4zM147 207.1l2.2 4.5h-4.4zM148.9 205.8l2.2 4.5h-4.4zM150.8 204.5l2.2 4.5h-4.4zM152.7 203.1l2.2 4.5h-4.4zM154.6 201.7l2.2 4.5h-4.4zM156.5 200.2l2.2 4.5h-4.4zM158.4 198.8l2.2 4.5h-4.4zM160.3 197.3l2.2 4.5h-4.4zM162.2 195.8l2.2 4.5h-4.4zM164.1 194.3l2.2 4.5h-4.4zM166 192.7l2.2 4.5h-4.4zM167.9 191.1l2.2 4.5h-4.4zM169.8 189.5l2.2 4.5h-4.4zM171.7 187.9l2.2 4.5h-4.4zM173.6 186.3l2.2 4.5h-4.4zM175.5 184.6l2.2 4.5h-4.4zM177.4 182.9l2.2 4.5h-4.4zM179.3 181.1l2.2 4.5h-4.4zM181.2 179.4l2.2 4.5h-4.4zM183.1 177.6l2.2 4.5h-4.4zM185 175.8l2.2 4.5h-4.4zM187.6 173.7l2.1 3.9h-4.2zM190.2 171l2.1 3.9h-4.2zM192.8 168.3l2.1 3.9h-4.2zM195.4 165.4l2.1 3.9h-4.2zM198 162.3l2.1 3.9h-4.2zM200.6 159.2l2.1 3.9h-4.2zM203.2 155.9l2.1 3.9h-4.2zM205.8 152.4l2.1 3.9h-4.2zM208.4 148.8l2.1 3.9h-4.2zM211 145.1l2.1 3.9h-4.2zM213.6 141.2l2.1 3.9h-4.2zM216.2 137.2l2.1 3.9h-4.2zM218.8 133l2.1 3.9h-4.2zM221.4 128.6l2.1 3.9h-4.2zM224 124.1l2.1 3.9h-4.2zM226.6 119.3l2.1 3.9h-4.2zM229.2 114.3l2.1 3.9h-4.2zM231.8 109l2.1 3.9h-4.2zM234.4 105.7l2.2 4.5h-4.4zM236.3 104.9l2.2 4.5h-4.4zM238.2 104.2l2.2 4.5h-4.4zM240.1 103.4l2.2 4.5h-4.4zM242 102.7l2.2 4.5h-4.4zM243.9 101.9l2.2 4.5h-4.4zM245.8 101.2l2.2 4.5h-4.4zM247.7 100.5l2.2 4.5h-4.4zM249.6 99.8l2.2 4.5h-4.4zM251.5 99.1l2.2 4.5h-4.4zM253.4 98.4l2.2 4.5h-4.4zM255.3 97.8l2.2 4.5h-4.4zM257.2 97.1l2.2 4.5h-4.4zM259.1 96.5l2.2 4.5h-4.4zM261 95.8l2.2 4.5h-4.4zM262.9 95.2l2.2 4.5h-4.4zM264.8 94.5l2.2 4.5h-4.4zM266.7 93.9l2.2 4.5h-4.4zM268.6 93.3l2.2 4.5h-4.4zM270.5 92.7l2.2 4.5h-4.4zM272.4 92.1l2.2 4.5h-4.4zM274.3 91.5l2.2 4.5h-4.4zM276.2 91l2.2 4.5h-4.4zM278.1 90.4l2.2 4.5h-4.4zM280 89.8l2.2 4.5h-4.4zM281.9 89.3l2.2 4.5h-4.4zM283.8 88.7l2.2 4.5h-4.4zM285.7 88.2l2.2 4.5h-4.4zM287.6 87.7l2.2 4.5h-4.4zM289.5 87.1l2.2 4.5h-4.4zM291.4 86.6l2.2 4.5h-4.4zM293.3 86.1l2.2 4.5h-4.4zM295.2 85.6l2.2 4.5h-4.4zM297.1 85.1l2.2 4.5h-4.4zM299 84.6l2.2 4.5h-4.4zM300.9 84.1l2.2 4.5h-4.4zM302.8 83.7l2.2 4.5h-4.4zM304.7 83.2l2.2 4.5h-4.4zM306.6 82.7l2.2 4.5h-4.4zM308.5 82.3l2.2 4.5h-4.4zM310.4 81.8l2.2 4.5h-4.4zM312.3 81.4l2.2 4.5h-4.4zM314.2 80.9l2.2 4.5h-4.4zM316.1 80.5l2.2 4.5h-4.4zM318 80.1l2.2 4.5h-4.4zM319.9 79.7l2.2 4.5h-4.4zM321.8 79.2l2.2 4.5h-4.4zM323.7 78.8l2.2 4.5h-4.4zM325.6 78.4l2.2 4.5h-4.4zM327.5 78l2.2 4.5h-4.4zM329.4 77.6l2.2 4.5h-4.4zM331.3 77.2l2.2 4.5h-4.4zM333.2 76.8l2.2 4.5h-4.4zM335.1 76.5l2.2 4.5h-4.4zM337 76.1l2.2 4.5h-4.4zM338.9 75.7l2.2 4.5h-4.4zM340.8 75.3l2.2 4.5h-4.4zM342.7 75l2.2 4.5h-4.4zM344.6 74.6l2.2 4.5h-4.4zM346.5 74.3l2.2 4.5h-4.4zM348.4 73.9l2.2 4.5h-4.4zM350.3 73.6l2.2 4.5h-4.4zM352.2 73.2l2.2 4.5h-4.4zM354.1 72.9l2.2 4.5h-4.4zM356 72.6l2.2 4.5h-4.4zM357.9 72.2l2.2 4.5h-4.4zM359.8 71.9l2.2 4.5h-4.4zM361.7 71.6l2.2 4.5h-4.4zM363.6 71.3l2.2 4.5h-4.4zM365.5 70.9l2.2 4.5h-4.4zM367.4 70.6l2.2 4.5h-4.4zM369.3 70.3l2.2 4.5h-4.4zM371.2 70l2.2 4.5h-4.4zM373.1 69.7l2.2 4.5h-4.4zM375 69.4l2.2 4.5h-4.4zM376.9 69.1l2.2 4.5h-4.4zM378.8 68.8l2.2 4.5h-4.4zM380.7 68.5l2.2 4.5h-4.4zM382.6 68.2l2.2 4.5h-4.4zM384.5 67.9l2.2 4.5h-4.4zM86.2 233.5l2.2 4.5h-4.4zM88.1 233.2l2.2 4.5h-4.4zM90 232.9l2.2 4.5h-4.4zM91.9 232.5l2.2 4.5h-4.4zM93.8 232.2l2.2 4.5h-4.4zM95.7 231.9l2.2 4.5h-4.4zM97.6 231.5l2.2 4.5h-4.4zM99.5 231.2l2.2 4.5h-4.4zM101.4 230.9l2.2 4.5h-4.4zM103.3 230.5l2.2 4.5h-4.4zM105.2 230.2l2.2 4.5h-4.4zM107.1 229.8l2.2 4.5h-4.4zM109 229.5l2.2 4.5h-4.4zM110.9 229.1l2.2 4.5h-4.4zM112.8 228.8l2.2 4.5h-4.4zM114.7 228.4l2.2 4.5h-4.4zM116.6 228.1l2.2 4.5h-4.4zM118.5 227.7l2.2 4.5h-4.4zM120.4 227.3l2.2 4.5h-4.4zM122.3 226.9l2.2 4.5h-4.4zM124.2 226.6l2.2 4.5h-4.4zM126.1 226.2l2.2 4.5h-4.4zM128 225.8l2.2 4.5h-4.4zM129.9 225.4l2.2 4.5h-4.4zM131.8 225l2.2 4.5h-4.4zM133.7 224.6l2.2 4.5h-4.4zM135.6 224.2l2.2 4.5h-4.4zM137.5 223.8l2.2 4.5h-4.4zM139.4 223.4l2.2 4.5h-4.4zM141.3 223l2.2 4.5h-4.4zM143.2 222.6l2.2 4.5h-4.4zM145.1 222.2l2.2 4.5h-4.4zM147 221.7l2.2 4.5h-4.4zM148.9 221.3l2.2 4.5h-4.4zM150.8 220.9l2.2 4.5h-4.4zM152.7 220.4l2.2 4.5h-4.4zM154.6 220l2.2 4.5h-4.4zM156.5 219.5l2.2 4.5h-4.4zM158.4 219.1l2.2 4.5h-4.4zM160.3 218.6l2.2 4.5h-4.4zM162.2 218.2l2.2 4.5h-4.4zM164.1 217.7l2.2 4.5h-4.4zM166 217.2l2.2 4.5h-4.4zM167.9 216.8l2.2 4.5h-4.4zM169.8 216.3l2.2 4.5h-4.4zM171.7 215.8l2.2 4.5h-4.4zM173.6 215.3l2.2 4.5h-4.4zM175.5 214.8l2.2 4.5h-4.4zM177.4 214.3l2.2 4.5h-4.4zM179.3 213.8l2.2 4.5h-4.4zM181.2 213.3l2.2 4.5h-4.4zM183.1 212.7l2.2 4.5h-4.4zM185 212.2l2.2 4.5h-4.4zM186.9 211.7l2.2 4.5h-4.4zM188.8 211.2l2.2 4.5h-4.4zM190.7 210.6l2.2 4.5h-4.4zM192.6 210.1l2.2 4.5h-4.4zM194.5 209.5l2.2 4.5h-4.4zM196.4 208.9l2.2 4.5h-4.4zM198.3 208.4l2.2 4.5h-4.4zM200.2 207.8l2.2 4.5h-4.4zM202.1 207.2l2.2 4.5h-4.4zM204 206.6l2.2 4.5h-4.4zM205.9 206.1l2.2 4.5h-4.4zM207.8 205.5l2.2 4.5h-4.4zM209.7 204.9l2.2 4.5h-4.4zM211.6 204.2l2.2 4.5h-4.4zM213.5 203.6l2.2 4.5h-4.4zM215.4 203l2.2 4.5h-4.4zM217.3 202.4l2.2 4.5h-4.4zM219.2 201.7l2.2 4.5h-4.4zM221.1 201.1l2.2 4.5h-4.4zM223 200.4l2.2 4.5h-4.4zM224.9 199.8l2.2 4.5h-4.4zM226.8 199.1l2.2 4.5h-4.4zM228.7 198.5l2.2 4.5h-4.4zM230.6 197.8l2.2 4.5h-4.4zM232.5 197.1l2.2 4.5h-4.4zM234.1 196.9l2.1 3.9h-4.2zM236.7 194.9l2.1 3.9h-4.2zM239.3 186.3l2.1 3.9h-4.2zM241.9 177l2.1 3.9h-4.2zM244.5 171.1l2.1 3.9h-4.2zM247.1 166.3l2.1 3.9h-4.2zM249.7 162.4l2.1 3.9h-4.2zM252.3 159l2.1 3.9h-4.2zM254.9 156l2.1 3.9h-4.2zM257.5 153.1l2.1 3.9h-4.2zM260.1 150.3l2.1 3.9h-4.2zM262.7 147.4l2.1 3.9h-4.2zM265.3 144.5l2.1 3.9h-4.2zM267.9 141.5l2.1 3.9h-4.2zM270.5 138.6l2.1 3.9h-4.2zM273.1 135.7l2.1 3.9h-4.2zM275.7 132.8l2.1 3.9h-4.2zM278.3 130l2.1 3.9h-4.2zM280.9 127.2l2.1 3.9h-4.2zM283.5 124.6l2.1 3.9h-4.2zM286.1 122l2.1 3.9h-4.2zM288.7 119.5l2.1 3.9h-4.2zM291.3 117.2l2.1 3.9h-4.2zM293.9 115l2.1 3.9h-4.2zM295 113.8l2.2 4.5h-4.4zM296.9 111.8l2.2 4.5h-4.4zM298.8 109.8l2.2 4.5h-4.4zM300.7 107.9l2.2 4.5h-4.4zM302.6 106l2.2 4.5h-4.4zM304.5 104.1l2.2 4.5h-4.4zM306.4 102.3l2.2 4.5h-4.4zM308.3 100.5l2.2 4.5h-4.4zM310.2 98.7l2.2 4.5h-4.4zM312.1 97l2.2 4.5h-4.4zM314 95.4l2.2 4.5h-4.4zM315.9 93.8l2.2 4.5h-4.4zM317.8 92.3l2.2 4.5h-4.4zM319.7 90.8l2.2 4.5h-4.4zM321.6 89.4l2.2 4.5h-4.4zM323.5 88.1l2.2 4.5h-4.4zM325.4 86.8l2.2 4.5h-4.4zM327.3 85.6l2.2 4.5h-4.4zM329.2 84.4l2.2 4.5h-4.4zM331.1 83.4l2.2 4.5h-4.4zM333 82.4l2.2 4.5h-4.4zM334.9 81.4l2.2 4.5h-4.4zM336.8 80.6l2.2 4.5h-4.4zM338.7 79.8l2.2 4.5h-4.4zM340.6 79.1l2.2 4.5h-4.4zM342.5 78.4l2.2 4.5h-4.4zM344.4 77.8l2.2 4.5h-4.4zM346.3 77.2l2.2 4.5h-4.4zM348.2 76.6l2.2 4.5h-4.4zM350.1 76.1l2.2 4.5h-4.4zM352 75.6l2.2 4.5h-4.4zM353.9 75.1l2.2 4.5h-4.4zM355.8 74.6l2.2 4.5h-4.4zM357.7 74.1l2.2 4.5h-4.4zM359.6 73.7l2.2 4.5h-4.4zM361.5 73.2l2.2 4.5h-4.4zM363.4 72.7l2.2 4.5h-4.4zM365.3 72.2l2.2 4.5h-4.4zM367.2 71.8l2.2 4.5h-4.4zM369.1 71.3l2.2 4.5h-4.4zM371 70.8l2.2 4.5h-4.4zM372.9 70.4l2.2 4.5h-4.4zM374.8 69.9l2.2 4.5h-4.4zM376.7 69.5l2.2 4.5h-4.4zM378.6 69.1l2.2 4.5h-4.4zM380.5 68.7l2.2 4.5h-4.4zM382.4 68.3l2.2 4.5h-4.4zM384.3 67.9l2.2 4.5h-4.4zM236.3 148.5l2.1 3.9h-4.2zM238.9 146.5l2.1 3.9h-4.2zM241.5 144.5l2.1 3.9h-4.2zM244.1 142.3l2.1 3.9h-4.2zM246.7 140.1l2.1 3.9h-4.2zM249.3 137.8l2.1 3.9h-4.2zM251.9 135.4l2.1 3.9h-4.2zM254.5 133.1l2.1 3.9h-4.2zM257.1 130.7l2.1 3.9h-4.2zM259.7 128.4l2.1 3.9h-4.2zM262.3 126l2.1 3.9h-4.2zM264.9 123.8l2.1 3.9h-4.2zM267.5 121.6l2.1 3.9h-4.2zM270.1 119.5l2.1 3.9h-4.2zM272.7 117.5l2.1 3.9h-4.2zM275.3 115.7l2.1 3.9h-4.2zM277.9 114l2.1 3.9h-4.2zM280.5 112.4l2.1 3.9h-4.2zM283.1 111.1l2.1 3.9h-4.2zM284 110.3l2.2 4.5h-4.4zM285.9 109.2l2.2 4.5h-4.4zM287.8 108.1l2.2 4.5h-4.4zM289.7 106.9l2.2 4.5h-4.4zM291.6 105.7l2.2 4.5h-4.4zM293.5 104.5l2.2 4.5h-4.4zM295.4 103.2l2.2 4.5h-4.4zM297.3 101.9l2.2 4.5h-4.4zM299.2 100.5l2.2 4.5h-4.4zM301.1 99.2l2.2 4.5h-4.4zM303 97.8l2.2 4.5h-4.4zM304.9 96.4l2.2 4.5h-4.4zM306.8 95.1l2.2 4.5h-4.4zM308.7 93.7l2.2 4.5h-4.4zM310.6 92.4l2.2 4.5h-4.4zM312.5 91.1l2.2 4.5h-4.4zM314.4 89.8l2.2 4.5h-4.4zM316.3 88.6l2.2 4.5h-4.4zM318.2 87.4l2.2 4.5h-4.4zM320.1 86.2l2.2 4.5h-4.4zM322 85.1l2.2 4.5h-4.4zM323.9 84.1l2.2 4.5h-4.4zM325.8 83.1l2.2 4.5h-4.4zM327.7 82.1l2.2 4.5h-4.4zM329.6 81.3l2.2 4.5h-4.4zM331.5 80.4l2.2 4.5h-4.4zM333.4 79.7l2.2 4.5h-4.4zM335.3 78.9l2.2 4.5h-4.4zM337.2 78.2l2.2 4.5h-4.4zM339.1 77.6l2.2 4.5h-4.4zM341 77l2.2 4.5h-4.4zM342.9 76.4l2.2 4.5h-4.4zM344.8 75.8l2.2 4.5h-4.4zM346.7 75.3l2.2 4.5h-4.4zM348.6 74.8l2.2 4.5h-4.4zM350.5 74.4l2.2 4.5h-4.4zM352.4 73.9l2.2 4.5h-4.4zM354.3 73.5l2.2 4.5h-4.4zM356.2 73.1l2.2 4.5h-4.4zM358.1 72.6l2.2 4.5h-4.4zM360 72.2l2.2 4.5h-4.4zM361.9 71.9l2.2 4.5h-4.4zM363.8 71.5l2.2 4.5h-4.4zM365.7 71.1l2.2 4.5h-4.4zM367.6 70.7l2.2 4.5h-4.4zM369.5 70.3l2.2 4.5h-4.4zM371.4 69.9l2.2 4.5h-4.4z" fill="#00f" stroke="none"/>

<rect x="70.5" y="31.3" width="82.6" height="53" fill="#fff" stroke="#6a6a6a" stroke-width="1"/>
<path d="M71 84.9H153.6V31.8" fill="none" stroke="#3a3a3a" stroke-width="1"/>
<path d="M79 42.2H110.8" stroke="#000" stroke-width="0.55" fill="none"/>
<path d="M79 59.8H110.8" stroke="#f00" stroke-width="0.55" fill="none"/>
<path d="M79 77.4H110.8" stroke="#00f" stroke-width="0.55" fill="none"/>
<path d="M93.2 40.2h3.9v3.9h-3.9z" fill="#000"/>
<path d="M95.2 59.8h0" fill="none" stroke="#f00" stroke-width="4.1" stroke-linecap="round"/>
<path d="M95.2 75l2.5 4.4h-5z" fill="#00f"/>
<text transform="translate(38.8 286.5) scale(1.04 1)" font-size="11" text-anchor="end">-40</text>
<text transform="translate(38.8 253.5) scale(1.04 1)" font-size="11" text-anchor="end">-30</text>
<text transform="translate(38.8 220.5) scale(1.04 1)" font-size="11" text-anchor="end">-20</text>
<text transform="translate(38.8 187.5) scale(1.04 1)" font-size="11" text-anchor="end">-10</text>
<text transform="translate(38.8 154.5) scale(1.04 1)" font-size="11" text-anchor="end">0</text>
<text transform="translate(38.8 121.5) scale(1.04 1)" font-size="11" text-anchor="end">10</text>
<text transform="translate(38.8 88.5) scale(1.04 1)" font-size="11" text-anchor="end">20</text>
<text transform="translate(38.8 55.5) scale(1.04 1)" font-size="11" text-anchor="end">30</text>
<text transform="translate(38.8 22.5) scale(1.04 1)" font-size="11" text-anchor="end">40</text>
<text transform="translate(86.3 319.2) scale(1.05 1)" font-size="11" text-anchor="middle">-10</text>
<text transform="translate(160.3 319.2) scale(1.05 1)" font-size="11" text-anchor="middle">-5</text>
<text transform="translate(234.5 319.2) scale(1.05 1)" font-size="11" text-anchor="middle">0</text>
<text transform="translate(308.5 319.2) scale(1.05 1)" font-size="11" text-anchor="middle">5</text>
<text transform="translate(382.5 319.2) scale(1.05 1)" font-size="11" text-anchor="middle">10</text>
<text class="b" transform="translate(234.8 342.8) scale(1.02 1)" font-size="14" text-anchor="middle">H(kOe)</text>
<text class="b" transform="translate(13.5 148.3) rotate(-90) scale(1.0 1)" font-size="14.5" text-anchor="middle">M(emu/g)</text>
<text class="b" transform="translate(66.9 23) scale(1.055 1)" font-size="13.6" text-anchor="start">RSR-MM-20hr</text>
<text class="b" transform="translate(115 46.8) scale(1.105 1)" font-size="13.2" text-anchor="start">400C</text>
<text class="b" transform="translate(115 64.4) scale(1.105 1)" font-size="13.2" text-anchor="start">450C</text>
<text class="b" transform="translate(115 82) scale(1.105 1)" font-size="13.2" text-anchor="start">500C</text>
</svg>
</body></html>
